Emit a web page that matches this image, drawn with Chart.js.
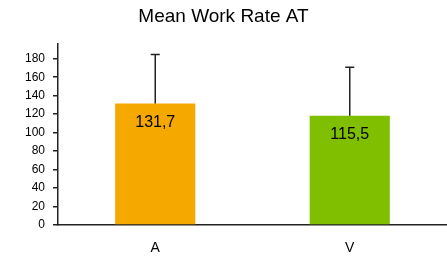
<!DOCTYPE html>
<html><head><meta charset="utf-8">
<script src="https://cdn.jsdelivr.net/npm/chart.js@4.4.0/dist/chart.umd.min.js"></script>
<style>html,body{margin:0;padding:0;background:#fff}#wrap{width:447px;height:256px}</style>
</head><body><div id="wrap"><canvas id="c" width="447" height="256"></canvas></div>
<script>
const categories = ["A", "V"];
const means = [131.7, 118.4];
const errorsPlus = [53, 52.5];
const valueLabels = ["131,7", "115,5"];
const barColors = ["#F5A800", "#80BE00"];
const yTickMax = 180;

const errorPlugin = {
  id: 'errbars',
  afterDatasetsDraw(chart) {
    const ctx = chart.ctx, y = chart.scales.y;
    const meta = chart.getDatasetMeta(0);
    meta.data.forEach((bar, i) => {
      const top = y.getPixelForValue(means[i] + errorsPlus[i]);
      ctx.save();
      ctx.strokeStyle = '#222'; ctx.lineWidth = 1.5;
      ctx.beginPath();
      ctx.moveTo(bar.x, bar.y); ctx.lineTo(bar.x, top);
      ctx.moveTo(bar.x - 4.5, top); ctx.lineTo(bar.x + 4.5, top);
      ctx.stroke();
      ctx.fillStyle = '#000';
      ctx.font = '16px "Liberation Sans", Arial, sans-serif';
      ctx.textAlign = 'center'; ctx.textBaseline = 'middle';
      ctx.fillText(valueLabels[i], bar.x, bar.y + 19);
      ctx.restore();
    });
  }
};

new Chart(document.getElementById('c'), {
  type: 'bar',
  data: { labels: categories, datasets: [{ data: means, backgroundColor: barColors, borderWidth: 0,
    categoryPercentage: 1, barPercentage: 0.412 }] },
  options: {
    responsive: false, animation: false,
    layout: { padding: { left: 0, right: 0, top: 0, bottom: 0 } },
    plugins: {
      legend: { display: false }, tooltip: { enabled: false },
      title: { display: true, text: 'Mean Work Rate AT', color: '#000',
        font: { family: '"Liberation Sans", Arial, sans-serif', size: 19, weight: 'normal' },
        padding: { top: 5.6, bottom: 15.6 } }
    },
    scales: {
      x: {
        grid: { display: false },
        border: { display: true, color: '#222', width: 1.5 },
        ticks: { color: '#000', font: { family: '"Liberation Sans", Arial, sans-serif', size: 14 }, padding: 7 },
        afterFit: s => { s.height = 31; }
      },
      y: {
        min: 0, max: 196,
        grid: { drawOnChartArea: false, drawTicks: true, tickLength: 5, color: '#222', lineWidth: 1.5 },
        border: { display: true, color: '#222', width: 1.5 },
        ticks: { stepSize: 20, color: '#000', padding: 8, font: { family: '"Liberation Sans", Arial, sans-serif', size: 12 } },
        afterBuildTicks: s => { s.ticks = s.ticks.filter(t => t.value <= yTickMax); },
        afterFit: s => { s.width = 58; }
      }
    }
  },
  plugins: [errorPlugin]
});
</script></body></html>
